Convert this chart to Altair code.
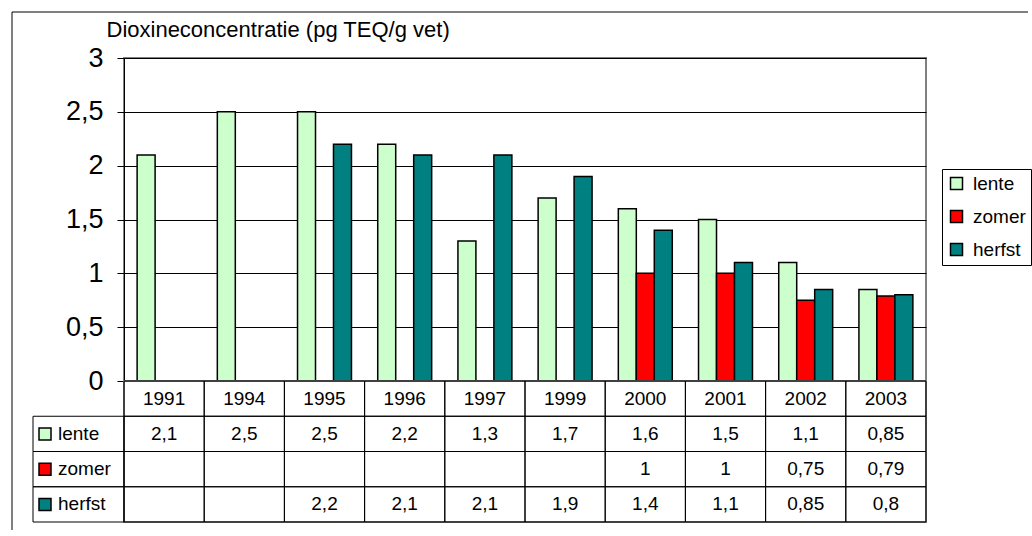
import altair as alt
import pandas as pd

# Dioxin concentration per sampling year and season (pg TEQ/g fat)
years = ["1991", "1994", "1995", "1996", "1997", "1999", "2000", "2001", "2002", "2003"]
lente = [2.1, 2.5, 2.5, 2.2, 1.3, 1.7, 1.6, 1.5, 1.1, 0.85]
zomer = [None, None, None, None, None, None, 1.0, 1.0, 0.75, 0.79]
herfst = [None, None, 2.2, 2.1, 2.1, 1.9, 1.4, 1.1, 0.85, 0.8]

seasons = ["lente", "zomer", "herfst"]
season_colors = ["#CCFFCC", "#FF0000", "#008080"]
y_ticks = [0, 0.5, 1, 1.5, 2, 2.5, 3]
table_rows = ["jaar", "lente", "zomer", "herfst"]

records = []
for season, series in zip(seasons, [lente, zomer, herfst]):
    for year, v in zip(years, series):
        if v is not None:
            records.append({
                "jaar": year,
                "seizoen": season,
                "rij": season,
                "waarde": v,
                "tekst": f"{v:g}".replace(".", ","),
            })
values_df = pd.DataFrame(records)

cells_df = pd.DataFrame([{"jaar": y, "rij": r} for r in table_rows for y in years])
header_df = pd.DataFrame({"jaar": years, "rij": ["jaar"] * len(years)})
labels_df = pd.DataFrame({"rij": seasons, "seizoen": seasons})
frame_df = pd.DataFrame({"k": [0]})

FONT = "Liberation Sans"

year_x = alt.X(
    "jaar:N", sort=years,
    scale=alt.Scale(domain=years, paddingInner=0, paddingOuter=0),
    axis=None,
)
row_y = alt.Y(
    "rij:N", sort=table_rows,
    scale=alt.Scale(domain=table_rows, paddingInner=0, paddingOuter=0),
    axis=None,
)
season_color = alt.Color(
    "seizoen:N",
    scale=alt.Scale(domain=seasons, range=season_colors),
    legend=alt.Legend(
        orient="none", legendX=818, legendY=111, title=None,
        symbolType="square", symbolSize=144,
        symbolStrokeColor="black", symbolStrokeWidth=1.5,
        labelFontSize=19, labelColor="black", labelFont=FONT,
        labelOffset=7, rowPadding=13, padding=5,
        strokeColor="black", fillColor="white",
    ),
)

# --- bar chart -------------------------------------------------------------
bars = alt.Chart(values_df).mark_bar(stroke="black", strokeWidth=1.5).encode(
    x=year_x,
    xOffset=alt.XOffset(
        "seizoen:N",
        scale=alt.Scale(domain=seasons, paddingInner=0, paddingOuter=0.73),
    ),
    y=alt.Y(
        "waarde:Q",
        scale=alt.Scale(domain=[0, 3], nice=False),
        axis=alt.Axis(
            values=y_ticks, format="~g",
            labelExpr="replace(datum.label, '.', ',')",
            grid=True, gridColor="black", gridWidth=1,
            domainColor="black", domainWidth=1,
            tickColor="black", tickSize=7,
            labelFontSize=27, labelPadding=14, labelColor="black",
            title="Dioxineconcentratie (pg TEQ/g vet)",
            titleAngle=0, titleAlign="left", titleBaseline="alphabetic",
            titleX=-18, titleY=-22, titleFontSize=22,
            titleFontWeight="normal", titleColor="black",
        ),
    ),
    color=season_color,
)

# outer chart frame (left and top edge)
frame_top = alt.Chart(frame_df).mark_rule(color="black", strokeWidth=1).encode(
    x=alt.value(-112), x2=alt.value(904), y=alt.value(-46)
)
frame_left = alt.Chart(frame_df).mark_rule(color="black", strokeWidth=1).encode(
    x=alt.value(-112), y=alt.value(-46), y2=alt.value(472)
)

main = alt.layer(frame_top, frame_left, bars).properties(width=802, height=323)

# --- data table --------------------------------------------------------------
cells = alt.Chart(cells_df).mark_rect(
    fill="white", fillOpacity=0, stroke="black", strokeWidth=1
).encode(x=year_x, y=row_y)

header_text = alt.Chart(header_df).mark_text(
    fontSize=19, color="black", baseline="middle"
).encode(x=year_x, y=row_y, text="jaar:N")

value_text = alt.Chart(values_df).mark_text(
    fontSize=19, color="black", baseline="middle"
).encode(x=year_x, y=row_y, text="tekst:N")

label_cells = alt.Chart(labels_df).mark_rect(
    fill="white", fillOpacity=0, stroke="black", strokeWidth=1
).encode(x=alt.value(-91), x2=alt.value(0), y=row_y)

label_keys = alt.Chart(labels_df).mark_point(
    shape="square", filled=True, size=144, opacity=1,
    stroke="black", strokeWidth=1.5,
).encode(x=alt.value(-79), y=row_y, color=alt.Color(
    "seizoen:N", scale=alt.Scale(domain=seasons, range=season_colors), legend=None
))

label_text = alt.Chart(labels_df).mark_text(
    fontSize=19, color="black", align="left", baseline="middle"
).encode(x=alt.value(-66), y=row_y, text="rij:N")

table = alt.layer(
    cells, label_cells, header_text, value_text, label_keys, label_text
).properties(width=802, height=141)

chart = (
    alt.vconcat(main, table, spacing=0, bounds="flush")
    .properties(padding={"left": 10, "top": 10, "right": 0, "bottom": 0},
                background="white")
    .configure(font=FONT)
    .configure_view(stroke="#808080", strokeWidth=2)
)

chart.save("out.html", embed_options={"renderer": "svg", "actions": False})
